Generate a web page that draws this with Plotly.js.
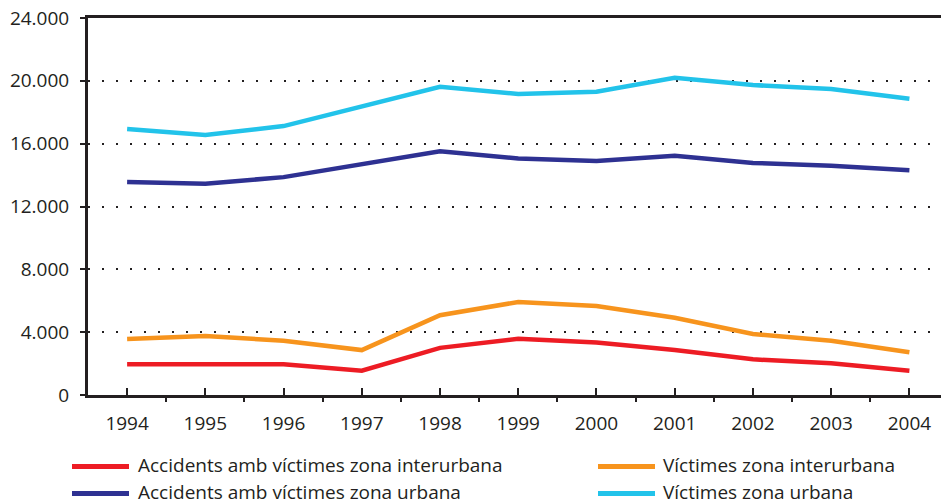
<!DOCTYPE html>
<html>
<head>
<meta charset="utf-8">
<script src="https://cdn.plot.ly/plotly-3.0.1.min.js"></script>
<style>
html,body{margin:0;padding:0;background:#fff;}
#chart{width:941px;height:502px;}
</style>
</head>
<body>
<div id="chart"></div>
<script>
// ---- data ----
const years = [1994, 1995, 1996, 1997, 1998, 1999, 2000, 2001, 2002, 2003, 2004];
const accidentsInterurbana = [1960, 1960, 1960, 1550, 3000, 3580, 3340, 2870, 2270, 2020, 1550];
const victimesInterurbana  = [3570, 3750, 3460, 2860, 5080, 5920, 5660, 4920, 3880, 3460, 2720];
const accidentsUrbana      = [13560, 13450, 13870, 14700, 15520, 15060, 14900, 15230, 14770, 14600, 14300];
const victimesUrbana       = [16930, 16550, 17120, 18370, 19620, 19160, 19300, 20200, 19730, 19480, 18860];
const seriesNames = [
  'Accidents amb víctimes zona interurbana',
  'Víctimes zona interurbana',
  'Accidents amb víctimes zona urbana',
  'Víctimes zona urbana'
];
const yTickValues = [0, 4000, 8000, 12000, 16000, 20000, 24000];

// ---- styles ----
const seriesColors = ['#ED1C24', '#F7941D', '#2E3192', '#22C3EA'];
const seriesData = [accidentsInterurbana, victimesInterurbana, accidentsUrbana, victimesUrbana];
const textColor = '#231F20';
const fontFamily = '"Open Sans", "Noto Sans", sans-serif';

const traces = seriesData.map((vals, i) => ({
  type: 'scatter',
  mode: 'lines',
  x: years,
  y: vals,
  name: seriesNames[i],
  line: {color: seriesColors[i], width: 4.5},
  showlegend: false,
  hoverinfo: 'skip'
}));

// plot area in pixels
const L = 88, R = 941, T = 18, B = 395;
const px2x = px => (px - L) / (R - L);
const py2y = py => (B - py) / (B - T);

// manual legend (2 x 2)
const legendPos = [
  {lx0: 72, lx1: 129, tx: 136, y: 466.5},
  {lx0: 598, lx1: 655, tx: 661, y: 466.5},
  {lx0: 72, lx1: 129, tx: 136, y: 493.5},
  {lx0: 598, lx1: 655, tx: 661, y: 493.5}
];
const shapes = [];
const annotations = [];
seriesNames.forEach((nm, i) => {
  const p = legendPos[i];
  shapes.push({
    type: 'line', xref: 'paper', yref: 'paper',
    x0: px2x(p.lx0), x1: px2x(p.lx1), y0: py2y(p.y), y1: py2y(p.y),
    line: {color: seriesColors[i], width: 5}
  });
  annotations.push({
    xref: 'paper', yref: 'paper', x: px2x(p.tx), y: py2y(p.y - 1.5),
    xanchor: 'left', yanchor: 'middle', showarrow: false,
    text: nm, font: {family: fontFamily, size: 19, color: textColor}
  });
});

const layout = {
  width: 941, height: 502,
  margin: {l: L, r: 941 - R, t: T, b: 502 - B, pad: 0},
  paper_bgcolor: '#fff', plot_bgcolor: '#fff',
  separators: ',.',
  font: {family: fontFamily, size: 19, color: textColor},
  showlegend: false,
  xaxis: {
    range: [1993.5, 1993.5 + (R - L) / 78.23],
    tickmode: 'array', tickvals: years, ticktext: years.map(String),
    ticks: 'inside', ticklen: 7, tickwidth: 2, tickcolor: textColor,
    minor: {ticks: 'outside', tick0: 1993.5, dtick: 1, ticklen: 4, tickwidth: 2, tickcolor: textColor, showgrid: false},
    showline: true, linecolor: textColor, linewidth: 3, mirror: true,
    showgrid: false, zeroline: false,
    tickfont: {family: fontFamily, size: 19, color: textColor},
    ticklabelstandoff: 9,
    fixedrange: true
  },
  yaxis: {
    range: [0, 24000],
    tickmode: 'array', tickvals: yTickValues,
    tickformat: ',d',
    ticks: 'outside', ticklen: 5, tickwidth: 2, tickcolor: textColor,
    showline: true, linecolor: textColor, linewidth: 3,
    showgrid: true, gridcolor: textColor, gridwidth: 2, griddash: '2px,12px',
    zeroline: false,
    tickfont: {family: fontFamily, size: 19, color: textColor},
    ticklabelstandoff: 7,
    fixedrange: true
  },
  shapes: shapes,
  annotations: annotations
};

Plotly.newPlot('chart', traces, layout, {displayModeBar: false, staticPlot: true});
</script>
</body>
</html>
